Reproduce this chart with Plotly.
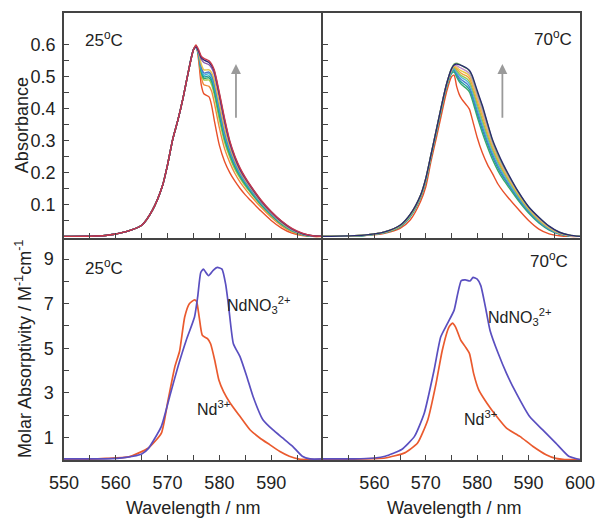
import plotly.graph_objects as go

# ---------------- data ----------------
WL_TOP = [550, 558, 562, 565, 567, 569, 570, 571, 572, 573, 574, 575, 575.5, 576, 576.5, 577, 578, 578.5, 579,
          580, 581, 582, 583, 584, 585, 586, 588, 590, 592, 594, 596, 598, 600]

# 25 C absorbance titration spectra (lowest -> highest nitrate)
RISE_25 = [0, 0.003, 0.015, 0.035, 0.08, 0.158, 0.225, 0.305, 0.365, 0.435, 0.515, 0.585]
A25_0 = RISE_25 + [0.600, 0.55, 0.475, 0.447, 0.437, 0.41, 0.365, 0.285, 0.235, 0.2, 0.173, 0.15, 0.13, 0.113, 0.08, 0.05, 0.026, 0.01, 0.003, 0, 0]
A25_1 = RISE_25 + [0.595, 0.56, 0.50, 0.475, 0.47, 0.455, 0.42, 0.34, 0.275, 0.232, 0.197, 0.17, 0.148, 0.128, 0.092, 0.06, 0.033, 0.014, 0.004, 0, 0]
A25_2 = RISE_25 + [0.594, 0.565, 0.51, 0.49, 0.49, 0.475, 0.445, 0.365, 0.295, 0.248, 0.21, 0.182, 0.158, 0.137, 0.098, 0.065, 0.037, 0.017, 0.005, 0.001, 0]
A25_3 = RISE_25 + [0.594, 0.567, 0.515, 0.495, 0.497, 0.485, 0.455, 0.378, 0.305, 0.256, 0.217, 0.187, 0.162, 0.14, 0.1, 0.067, 0.038, 0.018, 0.006, 0.001, 0]
A25_4 = RISE_25 + [0.594, 0.568, 0.52, 0.50, 0.503, 0.492, 0.465, 0.388, 0.313, 0.262, 0.222, 0.191, 0.166, 0.144, 0.103, 0.069, 0.04, 0.019, 0.006, 0.001, 0]
A25_5 = RISE_25 + [0.594, 0.57, 0.525, 0.505, 0.51, 0.50, 0.473, 0.397, 0.32, 0.268, 0.227, 0.195, 0.17, 0.147, 0.105, 0.071, 0.041, 0.02, 0.007, 0.001, 0]
A25_6 = RISE_25 + [0.594, 0.572, 0.53, 0.512, 0.515, 0.506, 0.48, 0.405, 0.328, 0.274, 0.232, 0.199, 0.173, 0.15, 0.107, 0.072, 0.042, 0.021, 0.007, 0.001, 0]
A25_7 = RISE_25 + [0.594, 0.575, 0.54, 0.522, 0.522, 0.513, 0.49, 0.415, 0.338, 0.281, 0.237, 0.203, 0.176, 0.153, 0.109, 0.073, 0.043, 0.021, 0.007, 0.001, 0]
A25_8 = RISE_25 + [0.594, 0.578, 0.555, 0.545, 0.538, 0.528, 0.508, 0.435, 0.355, 0.29, 0.243, 0.207, 0.18, 0.156, 0.111, 0.075, 0.045, 0.022, 0.008, 0.001, 0]
A25_9 = RISE_25 + [0.594, 0.58, 0.56, 0.553, 0.545, 0.535, 0.518, 0.445, 0.365, 0.296, 0.248, 0.211, 0.183, 0.158, 0.113, 0.077, 0.047, 0.024, 0.009, 0.002, 0]
A25_10 = RISE_25 + [0.598, 0.585, 0.565, 0.558, 0.55, 0.54, 0.522, 0.45, 0.37, 0.30, 0.251, 0.214, 0.185, 0.16, 0.115, 0.078, 0.048, 0.025, 0.01, 0.002, 0]
A25 = [A25_0, A25_1, A25_2, A25_3, A25_4, A25_5, A25_6, A25_7, A25_8, A25_9, A25_10]
C25 = ["#e8502a", "#f08a3c", "#9ccb4a", "#2fa66a", "#1a9aa0", "#3ab4d8", "#4a78c8", "#e8c448", "#8a5aa8", "#2e2a78", "#c8384a"]

# 70 C absorbance titration spectra
A70_0 = [0, 0.003, 0.01, 0.025, 0.052, 0.11, 0.155, 0.234, 0.305, 0.378, 0.45, 0.50, 0.505,
         0.47, 0.445, 0.43, 0.41, 0.398, 0.37, 0.31, 0.262, 0.225, 0.196, 0.165, 0.142, 0.122, 0.085, 0.05, 0.023, 0.008, 0.002, 0, 0]
A70_1 = [0, 0.003, 0.012, 0.03, 0.062, 0.122, 0.172, 0.247, 0.32, 0.395, 0.465, 0.51, 0.515,
         0.50, 0.485, 0.475, 0.462, 0.452, 0.43, 0.375, 0.325, 0.28, 0.24, 0.207, 0.18, 0.157, 0.112, 0.073, 0.042, 0.02, 0.007, 0.001, 0]
A70_2 = [0, 0.003, 0.012, 0.031, 0.064, 0.124, 0.175, 0.25, 0.323, 0.398, 0.468, 0.513, 0.52,
         0.505, 0.49, 0.482, 0.47, 0.46, 0.44, 0.385, 0.335, 0.29, 0.249, 0.215, 0.187, 0.163, 0.117, 0.077, 0.045, 0.022, 0.008, 0.002, 0]
A70_3 = [0, 0.004, 0.013, 0.032, 0.065, 0.125, 0.176, 0.251, 0.325, 0.40, 0.47, 0.516, 0.524,
         0.51, 0.497, 0.49, 0.478, 0.468, 0.448, 0.395, 0.345, 0.298, 0.257, 0.222, 0.193, 0.168, 0.121, 0.08, 0.047, 0.023, 0.008, 0.002, 0]
A70_4 = [0, 0.004, 0.013, 0.033, 0.066, 0.126, 0.177, 0.252, 0.326, 0.401, 0.471, 0.518, 0.527,
         0.515, 0.505, 0.497, 0.487, 0.477, 0.457, 0.405, 0.355, 0.307, 0.265, 0.229, 0.199, 0.173, 0.125, 0.083, 0.049, 0.025, 0.009, 0.002, 0]
A70_5 = [0, 0.004, 0.013, 0.033, 0.067, 0.127, 0.178, 0.253, 0.327, 0.402, 0.472, 0.52, 0.53,
         0.52, 0.51, 0.503, 0.494, 0.485, 0.466, 0.415, 0.365, 0.316, 0.272, 0.236, 0.205, 0.178, 0.128, 0.085, 0.051, 0.026, 0.01, 0.003, 0]
A70_6 = [0, 0.004, 0.014, 0.034, 0.068, 0.128, 0.179, 0.253, 0.328, 0.403, 0.473, 0.521, 0.532,
         0.525, 0.517, 0.51, 0.502, 0.494, 0.476, 0.425, 0.377, 0.326, 0.28, 0.243, 0.211, 0.183, 0.132, 0.087, 0.053, 0.027, 0.01, 0.003, 0]
A70_7 = [0, 0.004, 0.014, 0.034, 0.069, 0.129, 0.18, 0.254, 0.329, 0.404, 0.474, 0.522, 0.534,
         0.53, 0.523, 0.518, 0.51, 0.502, 0.485, 0.435, 0.387, 0.335, 0.287, 0.249, 0.216, 0.187, 0.135, 0.089, 0.055, 0.028, 0.011, 0.003, 0]
A70_8 = [0, 0.004, 0.014, 0.035, 0.07, 0.13, 0.181, 0.255, 0.33, 0.405, 0.475, 0.524, 0.536,
         0.535, 0.53, 0.526, 0.517, 0.51, 0.493, 0.443, 0.396, 0.343, 0.292, 0.253, 0.22, 0.19, 0.137, 0.091, 0.057, 0.03, 0.012, 0.003, 0]
A70_9 = [0, 0.004, 0.014, 0.035, 0.07, 0.13, 0.182, 0.255, 0.33, 0.405, 0.475, 0.526, 0.54,
         0.543, 0.54, 0.535, 0.526, 0.518, 0.502, 0.452, 0.406, 0.352, 0.298, 0.257, 0.224, 0.194, 0.139, 0.092, 0.059, 0.031, 0.013, 0.004, 0]
A70_10 = [0, 0.004, 0.014, 0.035, 0.07, 0.13, 0.182, 0.255, 0.33, 0.405, 0.475, 0.525, 0.537,
          0.54, 0.538, 0.535, 0.527, 0.52, 0.505, 0.457, 0.41, 0.355, 0.302, 0.263, 0.228, 0.197, 0.14, 0.093, 0.06, 0.032, 0.013, 0.004, 0]
A70 = [A70_0, A70_1, A70_2, A70_3, A70_4, A70_5, A70_6, A70_7, A70_8, A70_9, A70_10]
C70 = ["#e8502a", "#3aa66a", "#20a0a0", "#4a80d0", "#50b8d8", "#90c850", "#f0a040", "#e8c848", "#c090c8", "#7cc06a", "#2a2a70"]

# Molar absorptivity, 25 C
NDNO3_25_X = [550, 555, 558, 562, 565, 566.3, 568.8, 570.4, 572.0, 573.6, 575.2, 575.8, 576.4, 576.9, 577.9, 578.8,
              579.6, 580.5, 581.2, 581.8, 582.7, 584.0, 585.3, 586.5, 588.4, 590.3, 592.2, 594.1, 596.0, 597.5, 600]
NDNO3_25_Y = [0.03, 0.03, 0.03, 0.1, 0.25, 0.5, 1.49, 2.83, 4.17, 5.36, 6.4, 7.29, 8.4, 8.55, 8.26, 8.5,
              8.63, 8.55, 7.89, 6.85, 5.2, 4.61, 3.72, 2.83, 1.79, 1.34, 0.97, 0.6, 0.15, 0.03, 0.03]
ND_25_X = [550, 555, 558, 562.5, 566.3, 568.8, 570.1, 571.4, 572.3, 573.3, 574.2, 575.2, 575.6, 576.1, 576.7, 577.7,
           578.3, 579.1, 579.9, 580.8, 582.1, 584.0, 585.9, 587.8, 589.7, 591.6, 593.5, 595.4, 597, 600]
ND_25_Y = [0.0, 0.02, 0.05, 0.12, 0.52, 1.19, 2.68, 4.17, 4.85, 6.4, 7.0, 7.17, 7.1, 6.4, 5.58, 5.43,
           5.2, 4.46, 3.57, 3.05, 2.53, 1.93, 1.34, 0.97, 0.67, 0.37, 0.15, 0.02, 0, 0]

# Molar absorptivity, 70 C
NDNO3_70_X = [550, 556, 560, 562.1, 565.3, 567.8, 569.7, 571.6, 572.9, 574.2, 575.5, 576.2, 576.9, 577.7, 578.6,
              579.2, 580.0, 580.7, 581.6, 582.5, 584.1, 585.7, 587.6, 590.2, 592.7, 595.3, 597.8, 600]
NDNO3_70_Y = [0.03, 0.03, 0.07, 0.15, 0.45, 1.04, 2.08, 4.0, 5.5, 6.1, 6.7, 7.44, 8.04, 8.07, 8.02,
              8.18, 8.1, 7.81, 6.85, 5.8, 4.76, 3.87, 2.98, 1.93, 1.34, 0.74, 0.15, 0.0]
ND_70_X = [550, 556, 560, 562.1, 565.9, 568.4, 570.4, 572.0, 573.2, 574.5, 575.2, 575.8, 576.8, 577.7, 578.5,
           579.3, 580.3, 581.9, 583.8, 585.7, 588.3, 590.8, 593.4, 595.3, 597, 600]
ND_70_Y = [0.0, 0.02, 0.04, 0.07, 0.3, 0.74, 1.79, 3.42, 4.9, 5.95, 6.13, 5.95, 5.36, 5.06, 4.76,
           3.87, 3.13, 2.53, 1.93, 1.41, 1.04, 0.6, 0.22, 0.05, 0.0, 0.0]

BLUE = "#5a4fc0"
ORANGE = "#ea5a2e"

TOP_TICKS = [0.1, 0.2, 0.3, 0.4, 0.5, 0.6]
TOP_MINOR = [0.05, 0.15, 0.25, 0.35, 0.45, 0.55]
BOT_TICKS = [1, 3, 5, 7, 9]
BOT_MINOR = [2, 4, 6, 8]
XL_TICKS = [550, 560, 570, 580, 590]
XR_TICKS = [560, 570, 580, 590, 600]
X_MINOR = [555, 565, 575, 585, 595]

# ---------------- figure ----------------
fig = go.Figure()

for ys, c in zip(A25, C25):
    fig.add_trace(go.Scatter(x=WL_TOP, y=ys, mode="lines", xaxis="x", yaxis="y",
                             line=dict(color=c, width=1.4, shape="spline", smoothing=0.7),
                             showlegend=False, hoverinfo="skip"))
for ys, c in zip(A70, C70):
    fig.add_trace(go.Scatter(x=WL_TOP, y=ys, mode="lines", xaxis="x2", yaxis="y2",
                             line=dict(color=c, width=1.4, shape="spline", smoothing=0.7),
                             showlegend=False, hoverinfo="skip"))

fig.add_trace(go.Scatter(x=ND_25_X, y=ND_25_Y, mode="lines", xaxis="x3", yaxis="y3",
                         line=dict(color=ORANGE, width=1.7, shape="spline", smoothing=0.5), showlegend=False))
fig.add_trace(go.Scatter(x=NDNO3_25_X, y=NDNO3_25_Y, mode="lines", xaxis="x3", yaxis="y3",
                         line=dict(color=BLUE, width=1.7, shape="spline", smoothing=0.5), showlegend=False))
fig.add_trace(go.Scatter(x=ND_70_X, y=ND_70_Y, mode="lines", xaxis="x4", yaxis="y4",
                         line=dict(color=ORANGE, width=1.7, shape="spline", smoothing=0.5), showlegend=False))
fig.add_trace(go.Scatter(x=NDNO3_70_X, y=NDNO3_70_Y, mode="lines", xaxis="x4", yaxis="y4",
                         line=dict(color=BLUE, width=1.7, shape="spline", smoothing=0.5), showlegend=False))

FONT = "Liberation Sans, Arial, sans-serif"
TXT = "#222222"
LINE = "#444444"
XSPLIT = 263 / 524
YSPLIT = 223 / 449

common = dict(showline=True, linecolor=LINE, linewidth=1.5, ticks="inside",
              ticklen=5, tickwidth=1.3, tickcolor=LINE, showgrid=False, zeroline=False,
              tickfont=dict(family=FONT, size=18, color=TXT))

def minor(vals):
    return dict(tickvals=vals, ticks="inside", ticklen=5, tickwidth=1.3, tickcolor=LINE, showgrid=False)

fig.update_layout(
    width=606, height=518,
    margin=dict(l=64, r=18, t=11, b=58),
    paper_bgcolor="white", plot_bgcolor="white",
    font=dict(family=FONT, color=TXT),
    xaxis=dict(domain=[0, XSPLIT], anchor="y", range=[550, 600], tickvals=XL_TICKS, minor=minor(X_MINOR),
               showticklabels=False, mirror=True, **common),
    yaxis=dict(domain=[YSPLIT, 1], anchor="x", range=[-0.005, 0.70], tickvals=TOP_TICKS, minor=minor(TOP_MINOR),
               ticklabelstandoff=3, mirror=False, **common),
    xaxis2=dict(domain=[XSPLIT, 1], anchor="y2", range=[550, 600], tickvals=XR_TICKS, minor=minor(X_MINOR),
                showticklabels=False, mirror=True, **common),
    yaxis2=dict(domain=[YSPLIT, 1], anchor="x2", range=[-0.005, 0.70], tickvals=TOP_TICKS, minor=minor(TOP_MINOR),
                showticklabels=False, mirror=True, **common),
    xaxis3=dict(domain=[0, XSPLIT], anchor="y3", range=[550, 600], tickvals=XL_TICKS, minor=minor(X_MINOR),
                ticklabelstandoff=6, mirror=False, **common),
    yaxis3=dict(domain=[0, YSPLIT], anchor="x3", range=[-0.02, 9.95], tickvals=BOT_TICKS, minor=minor(BOT_MINOR),
                ticklabelstandoff=5, mirror=False, **common),
    xaxis4=dict(domain=[XSPLIT, 1], anchor="y4", range=[550, 600], tickvals=XR_TICKS, minor=minor(X_MINOR),
                ticklabelstandoff=6, mirror=False, **common),
    yaxis4=dict(domain=[0, YSPLIT], anchor="x4", range=[-0.02, 9.95], tickvals=BOT_TICKS, minor=minor(BOT_MINOR),
                showticklabels=False, mirror=True, **common),
)

ann = []
def A(**kw):
    base = dict(showarrow=False, xanchor="center", yanchor="middle",
                font=dict(family=FONT, size=17, color=TXT))
    base.update(kw)
    ann.append(base)

# panel labels
A(text="25<sup>o</sup>C", xref="x domain", yref="y domain", x=0.073, y=0.885, xanchor="left")
A(text="70<sup>o</sup>C", xref="x2 domain", yref="y2 domain", x=0.975, y=0.89, xanchor="right")
A(text="25<sup>o</sup>C", xref="x3 domain", yref="y3 domain", x=0.073, y=0.87, xanchor="left")
A(text="70<sup>o</sup>C", xref="x4 domain", yref="y4 domain", x=0.96, y=0.90, xanchor="right")
# species labels
A(text="NdNO<sub>3</sub><sup>2+</sup>", xref="x3", yref="y3", x=587.5, y=6.95, font=dict(family=FONT, size=16, color=TXT))
A(text="Nd<sup>3+</sup>", xref="x3", yref="y3", x=578.8, y=2.3, font=dict(family=FONT, size=16, color=TXT))
A(text="NdNO<sub>3</sub><sup>2+</sup>", xref="x4", yref="y4", x=588.3, y=6.4, font=dict(family=FONT, size=16, color=TXT))
A(text="Nd<sup>3+</sup>", xref="x4", yref="y4", x=580.6, y=1.85, font=dict(family=FONT, size=16, color=TXT))
# axis titles
A(text="Absorbance", xref="paper", yref="paper", x=(22 - 64) / 524, y=(460 - 124) / 449,
  textangle=-90, font=dict(family=FONT, size=18, color=TXT))
A(text="Molar Absorptivity / M<sup>-1</sup>cm<sup>-1</sup>", xref="paper", yref="paper", x=(23 - 64) / 524,
  y=(460 - 349) / 449, textangle=-90, font=dict(family=FONT, size=18, color=TXT))
A(text="Wavelength / nm", xref="paper", yref="paper", x=(195 - 64) / 524, y=(460 - 508) / 449,
  font=dict(family=FONT, size=18, color=TXT))
A(text="Wavelength / nm", xref="paper", yref="paper", x=(460 - 64) / 524, y=(460 - 508) / 449,
  font=dict(family=FONT, size=18, color=TXT))
# arrows
for xr, yr, xx in (("x", "y", 583.2), ("x2", "y2", 584.9)):
    ann.append(dict(xref=xr, yref=yr, axref=xr, ayref=yr, x=xx, y=0.54, ax=xx, ay=0.367, text="",
                    showarrow=True, arrowhead=2, arrowsize=1.1, arrowwidth=1.8, arrowcolor="#9a9a9a"))

fig.update_layout(annotations=ann)
fig.write_html("out.html", config={"displayModeBar": False},
               post_script="document.body.style.margin='0';document.body.style.overflow='hidden';")
